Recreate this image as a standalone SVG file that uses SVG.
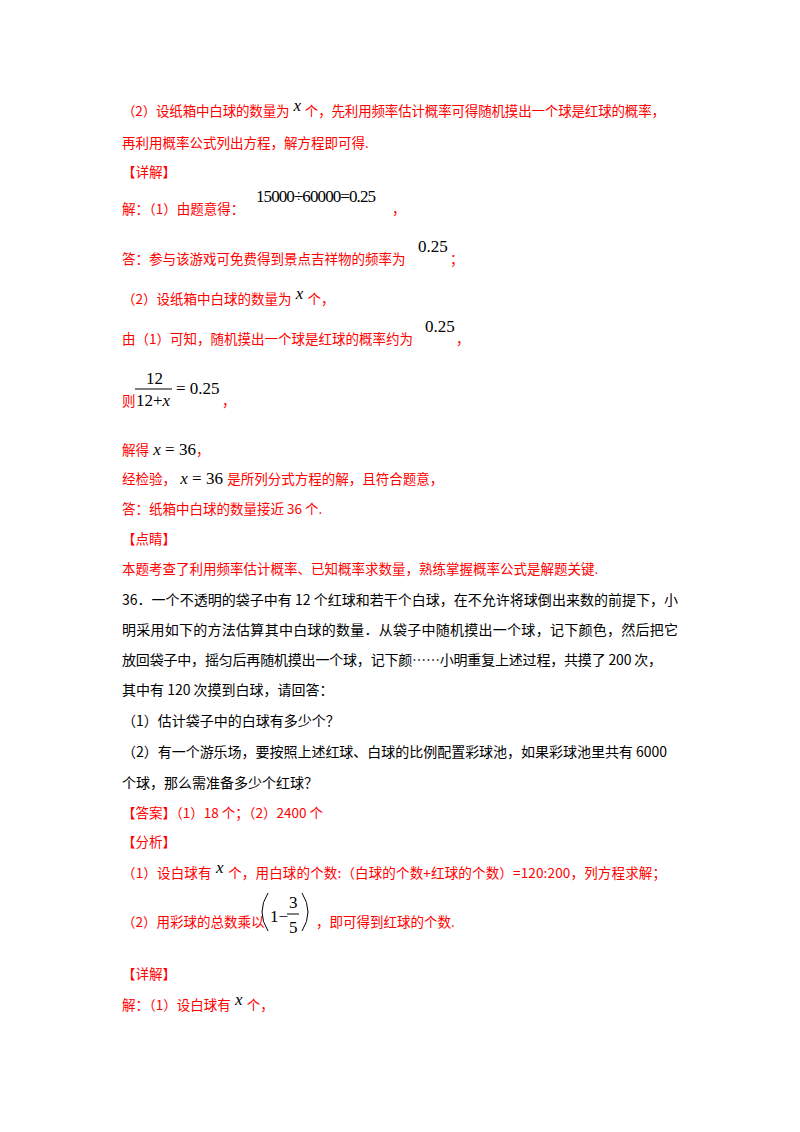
<svg xmlns="http://www.w3.org/2000/svg" width="800" height="1132" viewBox="0 0 800 1132">
<style>
text{font-family:"Noto Sans CJK SC","Liberation Sans",sans-serif;font-size:13.5px}
.r{fill:#ff0000}
.k{fill:#000;font-size:14px}
.m{font-family:"Liberation Serif",serif;font-size:17px;fill:#000}
.i{font-style:italic}
</style>
<rect width="800" height="1132" fill="#fff"/>
<text class="r" x="122" y="116" textLength="543">（2）设纸箱中白球的数量为<tspan class="m i" dy="-5"> x </tspan><tspan dy="5">个，先利用频率估计概率可得随机摸出一个球是红球的概率，</tspan></text>
<text class="r" x="122" y="148">再利用概率公式列出方程，解方程即可得.</text>
<text class="r" x="122" y="177">【详解】</text>
<text class="r" x="122" y="214">解：（1）由题意得：</text>
<text class="m" x="256" y="202" textLength="120">15000÷60000=0.25</text>
<text class="r" x="392" y="214">，</text>
<text class="r" x="122" y="264">答：参与该游戏可免费得到景点吉祥物的频率为</text>
<text class="m" x="418" y="252">0.25</text>
<text class="r" x="450" y="264">；</text>
<text class="r" x="122" y="304">（2）设纸箱中白球的数量为<tspan class="m i" dy="-5"> x </tspan><tspan dy="5">个，</tspan></text>
<text class="r" x="122" y="344">由（1）可知，随机摸出一个球是红球的概率约为</text>
<text class="m" x="425" y="332">0.25</text>
<text class="r" x="456" y="344">，</text>
<text class="m" x="146" y="384">12</text>
<line x1="135" y1="389" x2="172" y2="389" stroke="#000" stroke-width="1"/>
<text class="m" x="136" y="406">12+<tspan class="i">x</tspan></text>
<text class="m" x="176" y="394">= 0.25</text>
<text class="r" x="122" y="406">则</text>
<text class="r" x="222" y="406">，</text>
<text class="r" x="122" y="455">解得<tspan class="m"> <tspan class="i">x</tspan> = 36</tspan>，</text>
<text class="r" x="122" y="484">经检验，<tspan class="m"> <tspan class="i">x</tspan> = 36 </tspan>是所列分式方程的解，且符合题意，</text>
<text class="r" x="122" y="514">答：纸箱中白球的数量接近 36 个.</text>
<text class="r" x="122" y="544">【点睛】</text>
<text class="r" x="122" y="574">本题考查了利用频率估计概率、已知概率求数量，熟练掌握概率公式是解题关键.</text>
<text class="k" x="122" y="605" textLength="556">36．一个不透明的袋子中有 12 个红球和若干个白球，在不允许将球倒出来数的前提下，小</text>
<text class="k" x="122" y="635" textLength="556">明采用如下的方法估算其中白球的数量．从袋子中随机摸出一个球，记下颜色，然后把它</text>
<text class="k" x="122" y="665" textLength="540">放回袋子中，摇匀后再随机摸出一个球，记下颜……小明重复上述过程，共摸了 200 次，</text>
<text class="k" x="122" y="695">其中有 120 次摸到白球，请回答：</text>
<text class="k" x="122" y="726">（1）估计袋子中的白球有多少个？</text>
<text class="k" x="122" y="757" textLength="545">（2）有一个游乐场，要按照上述红球、白球的比例配置彩球池，如果彩球池里共有 6000</text>
<text class="k" x="122" y="788">个球，那么需准备多少个红球？</text>
<text class="r" x="122" y="818">【答案】（1）18 个；（2）2400 个</text>
<text class="r" x="122" y="847">【分析】</text>
<text class="r" x="122" y="878" textLength="544">（1）设白球有<tspan class="m i" dy="-5"> x </tspan><tspan dy="5">个，用白球的个数:（白球的个数+红球的个数）=120:200，列方程求解；</tspan></text>
<text class="r" x="122" y="927">（2）用彩球的总数乘以</text>
<path d="M268 893 Q256 912 268 931" fill="none" stroke="#000" stroke-width="1"/>
<text class="m" x="270" y="922">1−</text>
<text class="m" x="289" y="908">3</text>
<line x1="287" y1="914" x2="299" y2="914" stroke="#000" stroke-width="1"/>
<text class="m" x="289" y="933">5</text>
<path d="M302 893 Q314 912 302 931" fill="none" stroke="#000" stroke-width="1"/>
<text class="r" x="316" y="927">，即可得到红球的个数.</text>
<text class="r" x="122" y="979">【详解】</text>
<text class="r" x="122" y="1010">解：（1）设白球有<tspan class="m i" dy="-5"> x </tspan><tspan dy="5">个，</tspan></text>
</svg>
